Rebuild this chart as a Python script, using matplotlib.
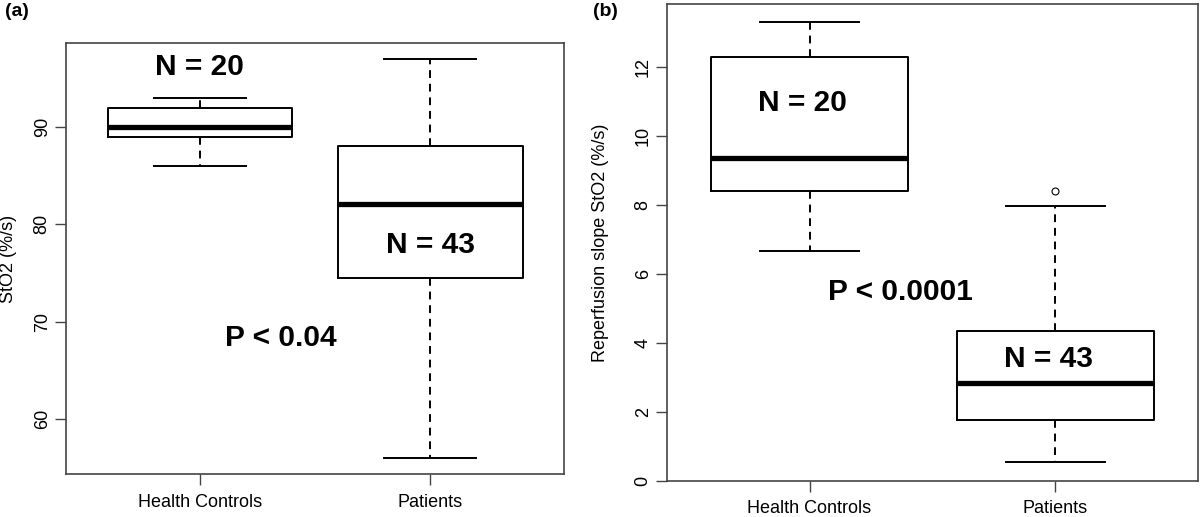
import numpy as np
import matplotlib
matplotlib.use("Agg")
from matplotlib import pyplot as plt

plt.rcParams["font.family"] = ["Liberation Sans", "DejaVu Sans"]

groups = ["Health Controls", "Patients"]

# panel (a): StO2
a_whislo = [86.0, 56.0]
a_q1 = [89.0, 74.5]
a_med = [90.0, 82.1]
a_q3 = [92.0, 88.05]
a_whishi = [93.0, 97.0]
a_fliers = [[], []]

# panel (b): reperfusion slope
b_whislo = [6.65, 0.53]
b_q1 = [8.41, 1.77]
b_med = [9.36, 2.83]
b_q3 = [12.28, 4.33]
b_whishi = [13.31, 7.97]
b_fliers = [[], [8.40]]


def stats(lo, q1, med, q3, hi, fl):
    return [dict(whislo=lo[i], q1=q1[i], med=med[i], q3=q3[i], whishi=hi[i],
                 fliers=np.array(fl[i])) for i in range(len(lo))]


def draw(ax, st, ylim, yticks, ylabel, xpad):
    ax.bxp(st, positions=[1, 2], widths=0.8, capwidths=0.4,
           boxprops=dict(color="black", lw=1.4),
           medianprops=dict(color="black", lw=3.8, solid_capstyle="butt"),
           whiskerprops=dict(color="black", lw=1.4, linestyle=(0, (4, 3))),
           capprops=dict(color="black", lw=1.4),
           flierprops=dict(marker="o", mfc="none", mec="black", ms=5, mew=0.8))
    ax.set_xlim(0.42, 2.58)
    ax.set_ylim(*ylim)
    ax.set_yticks(yticks)
    ax.set_xticks([1, 2])
    ax.set_xticklabels(groups, fontsize=13)
    for lab in ax.get_yticklabels():
        lab.set_rotation(90)
        lab.set_va("center")
        lab.set_fontsize(13)
    ax.set_ylabel(ylabel, fontsize=13)
    for s in ax.spines.values():
        s.set_color("#444444")
        s.set_linewidth(1.2)
    ax.tick_params(direction="out", length=8, width=1, color="#444444")
    ax.tick_params(axis="y", pad=3)
    ax.tick_params(axis="x", pad=xpad)


fig = plt.figure(figsize=(12, 5.17), dpi=100)
ax1 = fig.add_axes([0.055, 0.0832, 0.415, 0.8336])
ax2 = fig.add_axes([0.5558, 0.0696, 0.4425, 0.9227])

draw(ax1, stats(a_whislo, a_q1, a_med, a_q3, a_whishi, a_fliers),
     (54.36, 98.64), [60, 70, 80, 90], "StO2 (%/s)", 6.5)
draw(ax2, stats(b_whislo, b_q1, b_med, b_q3, b_whishi, b_fliers),
     (-0.01, 13.83), [0, 2, 4, 6, 8, 10, 12], "Reperfusion slope StO2 (%/s)", 6)
ax1.yaxis.set_label_coords(-0.098, 0.5)
ax2.yaxis.set_label_coords(-0.11, 0.5)

big = dict(fontsize=21.5, fontweight="bold", ha="center", va="center")
ax1.text(1.0, 96.15, "N = 20", **big)
ax1.text(2.0, 77.9, "N = 43", **big)
ax1.text(1.35, 68.3, "P < 0.04", **big)
ax2.text(0.97, 10.96, "N = 20", **big)
ax2.text(1.37, 5.48, "P < 0.0001", **big)
ax2.text(1.97, 3.54, "N = 43", **big)

fig.text(0.004, 0.978, "(a)", fontsize=14, fontweight="bold", va="center")
fig.text(0.494, 0.978, "(b)", fontsize=14, fontweight="bold", va="center")

fig.savefig("out.png", dpi=100)
